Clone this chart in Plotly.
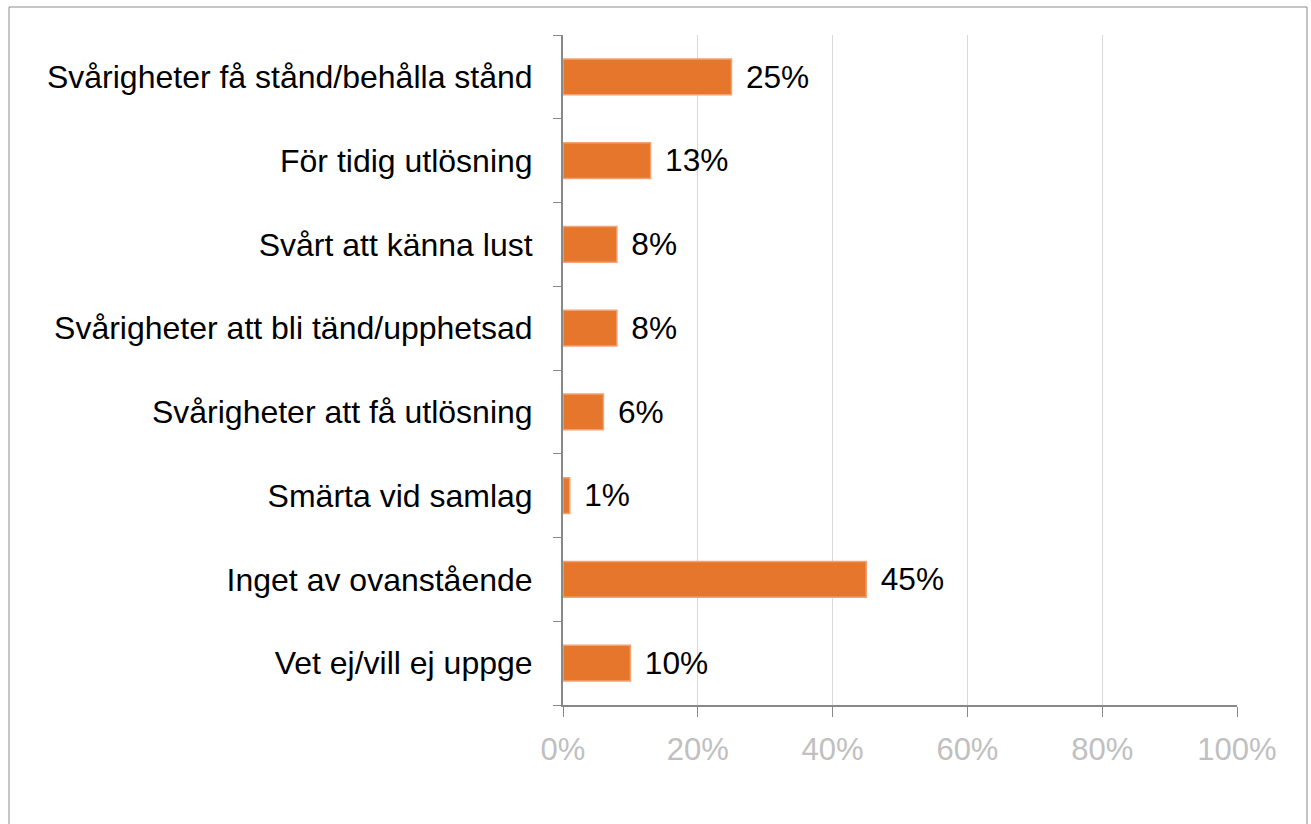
import plotly.graph_objects as go

categories = [
    "Svårigheter få stånd/behålla stånd",
    "För tidig utlösning",
    "Svårt att känna lust",
    "Svårigheter att bli tänd/upphetsad",
    "Svårigheter att få utlösning",
    "Smärta vid samlag",
    "Inget av ovanstående",
    "Vet ej/vill ej uppge",
]
values = [25, 13, 8, 8, 6, 1, 45, 10]
x_tickvals = [0, 20, 40, 60, 80, 100]
x_ticktext = ["0%", "20%", "40%", "60%", "80%", "100%"]

FONT = "Liberation Sans, Arial, sans-serif"

fig = go.Figure(
    go.Bar(
        y=categories,
        x=values,
        orientation="h",
        texttemplate="\u00a0\u200a%{x}%",
        textposition="outside",
        textfont=dict(size=32, color="#000000", family=FONT),
        marker=dict(color="#E6762C", line=dict(color="#F2A273", width=1.5)),
        cliponaxis=False,
    )
)

L, R, T, B = 563, 1237, 35, 705
W, H = 1311, 824
fig.update_layout(
    width=W,
    height=H,
    margin=dict(l=L, r=W - R, t=T, b=H - B),
    paper_bgcolor="white",
    plot_bgcolor="white",
    bargap=0.575,
    showlegend=False,
    font=dict(family=FONT, size=32, color="#000000"),
    xaxis=dict(
        range=[0, 100],
        tickvals=x_tickvals,
        ticktext=x_ticktext,
        tickfont=dict(size=31, color="#C0C0C0"),
        showgrid=True,
        gridcolor="#D9D9D9",
        gridwidth=1,
        zeroline=False,
        showline=True,
        linecolor="#888888",
        linewidth=2,
        ticks="outside",
        ticklen=10,
        tickcolor="#888888",
        tickwidth=1,
        ticklabelstandoff=6,
    ),
    yaxis=dict(
        categoryorder="array",
        categoryarray=categories[::-1],
        autorange=False,
        range=[-0.5, len(categories) - 0.5],
        showgrid=False,
        showline=True,
        linecolor="#888888",
        linewidth=2,
        ticks="outside",
        tickson="boundaries",
        ticklen=8,
        tickcolor="#888888",
        tickwidth=1,
        tickfont=dict(size=32, color="#000000"),
        ticklabelstandoff=22,
    ),
    shapes=[
        dict(
            type="rect",
            xref="paper",
            yref="paper",
            x0=(9 - L) / (R - L),
            x1=(1307 - L) / (R - L),
            y0=(B - 830) / (B - T),
            y1=(B - 7) / (B - T),
            line=dict(color="#8C8C8C", width=1),
            fillcolor="rgba(0,0,0,0)",
            layer="below",
        )
    ],
)

fig.write_html(
    "out.html",
    config={"displayModeBar": False},
    post_script="document.body.style.margin='0';document.body.style.overflow='hidden';",
)
